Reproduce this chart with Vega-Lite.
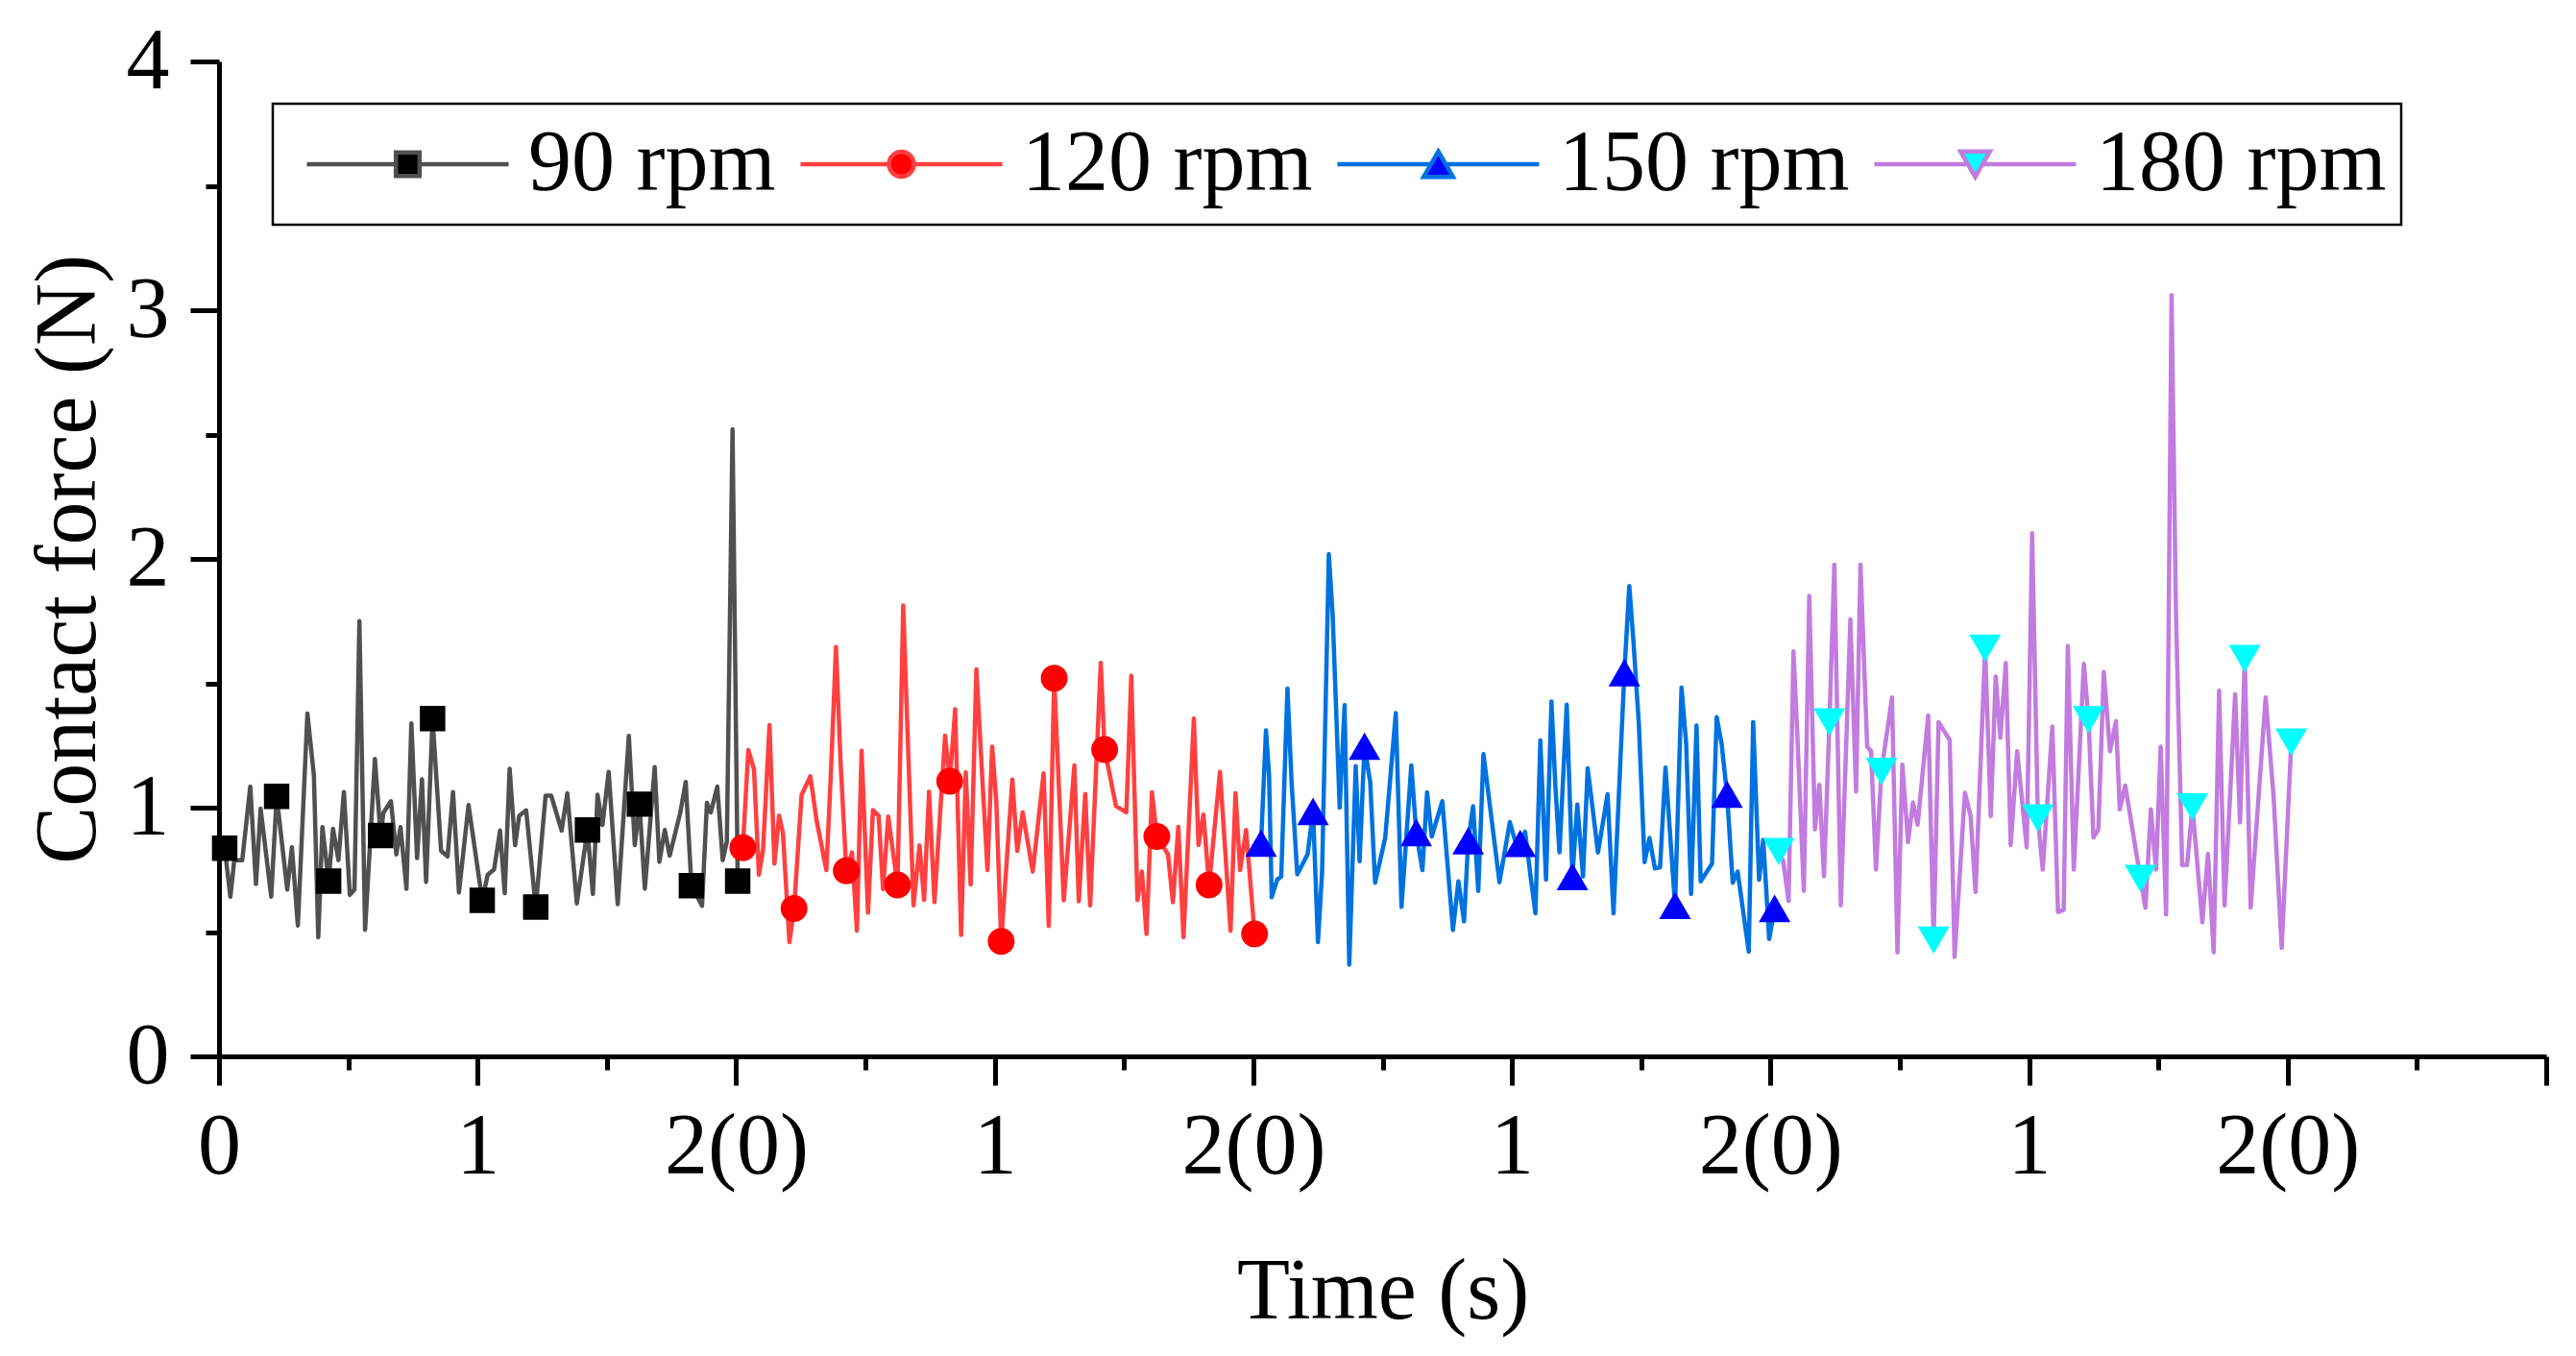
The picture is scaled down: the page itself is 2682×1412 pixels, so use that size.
{
  "$schema": "https://vega.github.io/schema/vega-lite/v6.json",
  "description": "Contact force vs time at four rotation speeds",
  "width": 2423,
  "height": 1036,
  "autosize": {"type": "none"},
  "padding": {"left": 228, "top": 64, "right": 31, "bottom": 312},
  "background": "#ffffff",
  "config": {
    "view": {"stroke": null},
    "font": "Liberation Serif",
    "legend": {"strokeWidth": 2.5},
    "axis": {
      "grid": false,
      "domainColor": "black",
      "domainWidth": 5,
      "tickColor": "black",
      "tickWidth": 5,
      "labelFont": "Liberation Serif",
      "labelFontSize": 90,
      "labelColor": "black",
      "titleFont": "Liberation Serif",
      "titleFontSize": 90,
      "titleFontWeight": "normal",
      "titleColor": "black"
    }
  },
  "datasets": {
    "lines": [
      {"series": "90 rpm", "time": 0.005, "force": 0.82},
      {"series": "90 rpm", "time": 0.022, "force": 0.837},
      {"series": "90 rpm", "time": 0.044, "force": 0.642},
      {"series": "90 rpm", "time": 0.059, "force": 0.789},
      {"series": "90 rpm", "time": 0.09, "force": 0.789},
      {"series": "90 rpm", "time": 0.121, "force": 1.085},
      {"series": "90 rpm", "time": 0.143, "force": 0.693},
      {"series": "90 rpm", "time": 0.161, "force": 0.996},
      {"series": "90 rpm", "time": 0.202, "force": 0.642},
      {"series": "90 rpm", "time": 0.223, "force": 1.045},
      {"series": "90 rpm", "time": 0.264, "force": 0.671},
      {"series": "90 rpm", "time": 0.282, "force": 0.841},
      {"series": "90 rpm", "time": 0.305, "force": 0.526},
      {"series": "90 rpm", "time": 0.342, "force": 1.378},
      {"series": "90 rpm", "time": 0.367, "force": 1.129},
      {"series": "90 rpm", "time": 0.384, "force": 0.479},
      {"series": "90 rpm", "time": 0.4, "force": 0.922},
      {"series": "90 rpm", "time": 0.424, "force": 0.705},
      {"series": "90 rpm", "time": 0.441, "force": 0.915},
      {"series": "90 rpm", "time": 0.462, "force": 0.789},
      {"series": "90 rpm", "time": 0.483, "force": 1.063},
      {"series": "90 rpm", "time": 0.506, "force": 0.649},
      {"series": "90 rpm", "time": 0.524, "force": 0.671},
      {"series": "90 rpm", "time": 0.543, "force": 1.75},
      {"series": "90 rpm", "time": 0.565, "force": 0.509},
      {"series": "90 rpm", "time": 0.603, "force": 1.196},
      {"series": "90 rpm", "time": 0.625, "force": 0.888},
      {"series": "90 rpm", "time": 0.636, "force": 0.98},
      {"series": "90 rpm", "time": 0.665, "force": 1.026},
      {"series": "90 rpm", "time": 0.686, "force": 0.812},
      {"series": "90 rpm", "time": 0.702, "force": 0.922},
      {"series": "90 rpm", "time": 0.725, "force": 0.674},
      {"series": "90 rpm", "time": 0.744, "force": 1.339},
      {"series": "90 rpm", "time": 0.766, "force": 0.797},
      {"series": "90 rpm", "time": 0.785, "force": 1.114},
      {"series": "90 rpm", "time": 0.801, "force": 0.701},
      {"series": "90 rpm", "time": 0.826, "force": 1.358},
      {"series": "90 rpm", "time": 0.859, "force": 0.826},
      {"series": "90 rpm", "time": 0.884, "force": 0.804},
      {"series": "90 rpm", "time": 0.905, "force": 1.063},
      {"series": "90 rpm", "time": 0.928, "force": 0.659},
      {"series": "90 rpm", "time": 0.965, "force": 1.011},
      {"series": "90 rpm", "time": 1.018, "force": 0.627},
      {"series": "90 rpm", "time": 1.039, "force": 0.73},
      {"series": "90 rpm", "time": 1.064, "force": 0.752},
      {"series": "90 rpm", "time": 1.087, "force": 0.908},
      {"series": "90 rpm", "time": 1.105, "force": 0.656},
      {"series": "90 rpm", "time": 1.124, "force": 1.156},
      {"series": "90 rpm", "time": 1.145, "force": 0.849},
      {"series": "90 rpm", "time": 1.161, "force": 0.967},
      {"series": "90 rpm", "time": 1.188, "force": 0.989},
      {"series": "90 rpm", "time": 1.225, "force": 0.6},
      {"series": "90 rpm", "time": 1.263, "force": 1.048},
      {"series": "90 rpm", "time": 1.285, "force": 1.048},
      {"series": "90 rpm", "time": 1.325, "force": 0.908},
      {"series": "90 rpm", "time": 1.347, "force": 1.058},
      {"series": "90 rpm", "time": 1.384, "force": 0.615},
      {"series": "90 rpm", "time": 1.425, "force": 0.91},
      {"series": "90 rpm", "time": 1.446, "force": 0.653},
      {"series": "90 rpm", "time": 1.464, "force": 1.052},
      {"series": "90 rpm", "time": 1.483, "force": 0.93},
      {"series": "90 rpm", "time": 1.507, "force": 1.144},
      {"series": "90 rpm", "time": 1.542, "force": 0.612},
      {"series": "90 rpm", "time": 1.585, "force": 1.289},
      {"series": "90 rpm", "time": 1.608, "force": 0.849},
      {"series": "90 rpm", "time": 1.626, "force": 1.014},
      {"series": "90 rpm", "time": 1.647, "force": 0.674},
      {"series": "90 rpm", "time": 1.685, "force": 1.163},
      {"series": "90 rpm", "time": 1.703, "force": 0.782},
      {"series": "90 rpm", "time": 1.724, "force": 0.91},
      {"series": "90 rpm", "time": 1.743, "force": 0.807},
      {"series": "90 rpm", "time": 1.784, "force": 0.981},
      {"series": "90 rpm", "time": 1.805, "force": 1.103},
      {"series": "90 rpm", "time": 1.827, "force": 0.686},
      {"series": "90 rpm", "time": 1.868, "force": 0.605},
      {"series": "90 rpm", "time": 1.887, "force": 1.019},
      {"series": "90 rpm", "time": 1.902, "force": 0.981},
      {"series": "90 rpm", "time": 1.927, "force": 1.085},
      {"series": "90 rpm", "time": 1.948, "force": 0.789},
      {"series": "90 rpm", "time": 1.964, "force": 0.863},
      {"series": "90 rpm", "time": 1.986, "force": 2.521},
      {"series": "90 rpm", "time": 2.006, "force": 0.705},

      {"series": "120 rpm", "time": 2.026, "force": 0.839},
      {"series": "120 rpm", "time": 2.047, "force": 1.232},
      {"series": "120 rpm", "time": 2.069, "force": 1.154},
      {"series": "120 rpm", "time": 2.088, "force": 0.73},
      {"series": "120 rpm", "time": 2.104, "force": 0.83},
      {"series": "120 rpm", "time": 2.129, "force": 1.332},
      {"series": "120 rpm", "time": 2.148, "force": 0.775},
      {"series": "120 rpm", "time": 2.166, "force": 0.968},
      {"series": "120 rpm", "time": 2.181, "force": 0.897},
      {"series": "120 rpm", "time": 2.206, "force": 0.459},
      {"series": "120 rpm", "time": 2.224, "force": 0.595},
      {"series": "120 rpm", "time": 2.253, "force": 1.051},
      {"series": "120 rpm", "time": 2.287, "force": 1.126},
      {"series": "120 rpm", "time": 2.311, "force": 0.949},
      {"series": "120 rpm", "time": 2.349, "force": 0.749},
      {"series": "120 rpm", "time": 2.367, "force": 1.154},
      {"series": "120 rpm", "time": 2.386, "force": 1.646},
      {"series": "120 rpm", "time": 2.404, "force": 1.18},
      {"series": "120 rpm", "time": 2.426, "force": 0.746},
      {"series": "120 rpm", "time": 2.448, "force": 0.82},
      {"series": "120 rpm", "time": 2.467, "force": 0.505},
      {"series": "120 rpm", "time": 2.485, "force": 1.229},
      {"series": "120 rpm", "time": 2.51, "force": 0.578},
      {"series": "120 rpm", "time": 2.529, "force": 0.99},
      {"series": "120 rpm", "time": 2.551, "force": 0.968},
      {"series": "120 rpm", "time": 2.568, "force": 0.672},
      {"series": "120 rpm", "time": 2.588, "force": 0.964},
      {"series": "120 rpm", "time": 2.624, "force": 0.689},
      {"series": "120 rpm", "time": 2.646, "force": 1.813},
      {"series": "120 rpm", "time": 2.686, "force": 0.607},
      {"series": "120 rpm", "time": 2.709, "force": 0.848},
      {"series": "120 rpm", "time": 2.727, "force": 0.629},
      {"series": "120 rpm", "time": 2.746, "force": 1.064},
      {"series": "120 rpm", "time": 2.767, "force": 0.62},
      {"series": "120 rpm", "time": 2.808, "force": 1.29},
      {"series": "120 rpm", "time": 2.826, "force": 1.106},
      {"series": "120 rpm", "time": 2.847, "force": 1.396},
      {"series": "120 rpm", "time": 2.87, "force": 0.488},
      {"series": "120 rpm", "time": 2.888, "force": 1.142},
      {"series": "120 rpm", "time": 2.907, "force": 0.691},
      {"series": "120 rpm", "time": 2.929, "force": 1.556},
      {"series": "120 rpm", "time": 2.95, "force": 1.154},
      {"series": "120 rpm", "time": 2.972, "force": 0.749},
      {"series": "120 rpm", "time": 2.99, "force": 1.245},
      {"series": "120 rpm", "time": 3.006, "force": 1.026},
      {"series": "120 rpm", "time": 3.025, "force": 0.462},
      {"series": "120 rpm", "time": 3.068, "force": 1.113},
      {"series": "120 rpm", "time": 3.087, "force": 0.826},
      {"series": "120 rpm", "time": 3.108, "force": 0.981},
      {"series": "120 rpm", "time": 3.147, "force": 0.743},
      {"series": "120 rpm", "time": 3.189, "force": 1.138},
      {"series": "120 rpm", "time": 3.209, "force": 0.524},
      {"series": "120 rpm", "time": 3.23, "force": 1.52},
      {"series": "120 rpm", "time": 3.267, "force": 0.627},
      {"series": "120 rpm", "time": 3.308, "force": 1.17},
      {"series": "120 rpm", "time": 3.325, "force": 0.624},
      {"series": "120 rpm", "time": 3.35, "force": 1.055},
      {"series": "120 rpm", "time": 3.369, "force": 0.607},
      {"series": "120 rpm", "time": 3.41, "force": 1.582},
      {"series": "120 rpm", "time": 3.425, "force": 1.234},
      {"series": "120 rpm", "time": 3.469, "force": 1.006},
      {"series": "120 rpm", "time": 3.509, "force": 0.981},
      {"series": "120 rpm", "time": 3.528, "force": 1.53},
      {"series": "120 rpm", "time": 3.552, "force": 0.629},
      {"series": "120 rpm", "time": 3.569, "force": 0.743},
      {"series": "120 rpm", "time": 3.587, "force": 0.492},
      {"series": "120 rpm", "time": 3.608, "force": 1.062},
      {"series": "120 rpm", "time": 3.627, "force": 0.884},
      {"series": "120 rpm", "time": 3.67, "force": 0.813},
      {"series": "120 rpm", "time": 3.689, "force": 0.62},
      {"series": "120 rpm", "time": 3.71, "force": 0.923},
      {"series": "120 rpm", "time": 3.73, "force": 0.479},
      {"series": "120 rpm", "time": 3.77, "force": 1.358},
      {"series": "120 rpm", "time": 3.788, "force": 0.85},
      {"series": "120 rpm", "time": 3.807, "force": 0.972},
      {"series": "120 rpm", "time": 3.829, "force": 0.689},
      {"series": "120 rpm", "time": 3.871, "force": 1.144},
      {"series": "120 rpm", "time": 3.912, "force": 0.505},
      {"series": "120 rpm", "time": 3.931, "force": 1.058},
      {"series": "120 rpm", "time": 3.949, "force": 0.749},
      {"series": "120 rpm", "time": 3.972, "force": 0.91},
      {"series": "120 rpm", "time": 4.005, "force": 0.492},

      {"series": "150 rpm", "time": 4.03, "force": 0.857},
      {"series": "150 rpm", "time": 4.049, "force": 1.311},
      {"series": "150 rpm", "time": 4.061, "force": 1.129},
      {"series": "150 rpm", "time": 4.071, "force": 0.64},
      {"series": "150 rpm", "time": 4.092, "force": 0.71},
      {"series": "150 rpm", "time": 4.108, "force": 0.723},
      {"series": "150 rpm", "time": 4.132, "force": 1.479},
      {"series": "150 rpm", "time": 4.148, "force": 1.103},
      {"series": "150 rpm", "time": 4.17, "force": 0.732},
      {"series": "150 rpm", "time": 4.21, "force": 0.813},
      {"series": "150 rpm", "time": 4.231, "force": 0.985},
      {"series": "150 rpm", "time": 4.25, "force": 0.459},
      {"series": "150 rpm", "time": 4.266, "force": 0.742},
      {"series": "150 rpm", "time": 4.292, "force": 2.019},
      {"series": "150 rpm", "time": 4.307, "force": 1.772},
      {"series": "150 rpm", "time": 4.334, "force": 1.0},
      {"series": "150 rpm", "time": 4.353, "force": 1.412},
      {"series": "150 rpm", "time": 4.371, "force": 0.369},
      {"series": "150 rpm", "time": 4.396, "force": 1.167},
      {"series": "150 rpm", "time": 4.411, "force": 0.784},
      {"series": "150 rpm", "time": 4.43, "force": 1.247},
      {"series": "150 rpm", "time": 4.452, "force": 1.103},
      {"series": "150 rpm", "time": 4.471, "force": 0.698},
      {"series": "150 rpm", "time": 4.51, "force": 0.878},
      {"series": "150 rpm", "time": 4.551, "force": 1.38},
      {"series": "150 rpm", "time": 4.573, "force": 0.601},
      {"series": "150 rpm", "time": 4.611, "force": 1.17},
      {"series": "150 rpm", "time": 4.63, "force": 0.9},
      {"series": "150 rpm", "time": 4.654, "force": 0.749},
      {"series": "150 rpm", "time": 4.672, "force": 1.062},
      {"series": "150 rpm", "time": 4.69, "force": 0.884},
      {"series": "150 rpm", "time": 4.731, "force": 1.026},
      {"series": "150 rpm", "time": 4.772, "force": 0.508},
      {"series": "150 rpm", "time": 4.793, "force": 0.704},
      {"series": "150 rpm", "time": 4.815, "force": 0.543},
      {"series": "150 rpm", "time": 4.831, "force": 0.867},
      {"series": "150 rpm", "time": 4.85, "force": 1.006},
      {"series": "150 rpm", "time": 4.87, "force": 0.665},
      {"series": "150 rpm", "time": 4.89, "force": 1.215},
      {"series": "150 rpm", "time": 4.952, "force": 0.7},
      {"series": "150 rpm", "time": 4.992, "force": 0.942},
      {"series": "150 rpm", "time": 5.011, "force": 0.871},
      {"series": "150 rpm", "time": 5.032, "force": 0.856},
      {"series": "150 rpm", "time": 5.051, "force": 0.903},
      {"series": "150 rpm", "time": 5.073, "force": 0.717},
      {"series": "150 rpm", "time": 5.091, "force": 0.575},
      {"series": "150 rpm", "time": 5.11, "force": 1.27},
      {"series": "150 rpm", "time": 5.132, "force": 0.71},
      {"series": "150 rpm", "time": 5.153, "force": 1.427},
      {"series": "150 rpm", "time": 5.168, "force": 1.09},
      {"series": "150 rpm", "time": 5.184, "force": 0.82},
      {"series": "150 rpm", "time": 5.212, "force": 1.414},
      {"series": "150 rpm", "time": 5.234, "force": 0.723},
      {"series": "150 rpm", "time": 5.253, "force": 1.013},
      {"series": "150 rpm", "time": 5.275, "force": 0.723},
      {"series": "150 rpm", "time": 5.293, "force": 1.158},
      {"series": "150 rpm", "time": 5.333, "force": 0.82},
      {"series": "150 rpm", "time": 5.37, "force": 1.054},
      {"series": "150 rpm", "time": 5.393, "force": 0.575},
      {"series": "150 rpm", "time": 5.435, "force": 1.543},
      {"series": "150 rpm", "time": 5.454, "force": 1.891},
      {"series": "150 rpm", "time": 5.47, "force": 1.669},
      {"series": "150 rpm", "time": 5.491, "force": 1.335},
      {"series": "150 rpm", "time": 5.513, "force": 0.781},
      {"series": "150 rpm", "time": 5.532, "force": 0.878},
      {"series": "150 rpm", "time": 5.553, "force": 0.756},
      {"series": "150 rpm", "time": 5.573, "force": 0.76},
      {"series": "150 rpm", "time": 5.594, "force": 1.161},
      {"series": "150 rpm", "time": 5.631, "force": 0.607},
      {"series": "150 rpm", "time": 5.656, "force": 1.483},
      {"series": "150 rpm", "time": 5.674, "force": 1.257},
      {"series": "150 rpm", "time": 5.693, "force": 0.653},
      {"series": "150 rpm", "time": 5.714, "force": 1.33},
      {"series": "150 rpm", "time": 5.73, "force": 0.704},
      {"series": "150 rpm", "time": 5.774, "force": 0.775},
      {"series": "150 rpm", "time": 5.792, "force": 1.364},
      {"series": "150 rpm", "time": 5.811, "force": 1.257},
      {"series": "150 rpm", "time": 5.832, "force": 1.054},
      {"series": "150 rpm", "time": 5.854, "force": 0.698},
      {"series": "150 rpm", "time": 5.873, "force": 0.743},
      {"series": "150 rpm", "time": 5.916, "force": 0.421},
      {"series": "150 rpm", "time": 5.933, "force": 1.344},
      {"series": "150 rpm", "time": 5.956, "force": 0.71},
      {"series": "150 rpm", "time": 5.972, "force": 0.871},
      {"series": "150 rpm", "time": 5.995, "force": 0.472},
      {"series": "150 rpm", "time": 6.016, "force": 0.595},

      {"series": "180 rpm", "time": 6.032, "force": 0.823},
      {"series": "180 rpm", "time": 6.049, "force": 0.787},
      {"series": "180 rpm", "time": 6.07, "force": 0.625},
      {"series": "180 rpm", "time": 6.089, "force": 1.628},
      {"series": "180 rpm", "time": 6.104, "force": 1.29},
      {"series": "180 rpm", "time": 6.129, "force": 0.665},
      {"series": "180 rpm", "time": 6.15, "force": 1.851},
      {"series": "180 rpm", "time": 6.172, "force": 0.913},
      {"series": "180 rpm", "time": 6.189, "force": 1.092},
      {"series": "180 rpm", "time": 6.207, "force": 0.724},
      {"series": "180 rpm", "time": 6.228, "force": 1.344},
      {"series": "180 rpm", "time": 6.247, "force": 1.977},
      {"series": "180 rpm", "time": 6.272, "force": 0.607},
      {"series": "180 rpm", "time": 6.309, "force": 1.757},
      {"series": "180 rpm", "time": 6.331, "force": 1.065},
      {"series": "180 rpm", "time": 6.348, "force": 1.977},
      {"series": "180 rpm", "time": 6.374, "force": 1.245},
      {"series": "180 rpm", "time": 6.389, "force": 1.227},
      {"series": "180 rpm", "time": 6.408, "force": 0.751},
      {"series": "180 rpm", "time": 6.429, "force": 1.146},
      {"series": "180 rpm", "time": 6.47, "force": 1.443},
      {"series": "180 rpm", "time": 6.491, "force": 0.418},
      {"series": "180 rpm", "time": 6.51, "force": 1.173},
      {"series": "180 rpm", "time": 6.532, "force": 0.862},
      {"series": "180 rpm", "time": 6.551, "force": 1.02},
      {"series": "180 rpm", "time": 6.569, "force": 0.931},
      {"series": "180 rpm", "time": 6.61, "force": 1.371},
      {"series": "180 rpm", "time": 6.631, "force": 0.467},
      {"series": "180 rpm", "time": 6.65, "force": 1.344},
      {"series": "180 rpm", "time": 6.693, "force": 1.272},
      {"series": "180 rpm", "time": 6.712, "force": 0.4},
      {"series": "180 rpm", "time": 6.752, "force": 1.06},
      {"series": "180 rpm", "time": 6.774, "force": 0.966},
      {"series": "180 rpm", "time": 6.793, "force": 0.661},
      {"series": "180 rpm", "time": 6.83, "force": 1.641},
      {"series": "180 rpm", "time": 6.852, "force": 0.966},
      {"series": "180 rpm", "time": 6.871, "force": 1.527},
      {"series": "180 rpm", "time": 6.889, "force": 1.281},
      {"series": "180 rpm", "time": 6.91, "force": 1.581},
      {"series": "180 rpm", "time": 6.929, "force": 0.85},
      {"series": "180 rpm", "time": 6.954, "force": 1.227},
      {"series": "180 rpm", "time": 6.991, "force": 0.841},
      {"series": "180 rpm", "time": 7.012, "force": 2.103},
      {"series": "180 rpm", "time": 7.034, "force": 0.958},
      {"series": "180 rpm", "time": 7.053, "force": 0.751},
      {"series": "180 rpm", "time": 7.09, "force": 1.326},
      {"series": "180 rpm", "time": 7.112, "force": 0.58},
      {"series": "180 rpm", "time": 7.134, "force": 0.589},
      {"series": "180 rpm", "time": 7.15, "force": 1.65},
      {"series": "180 rpm", "time": 7.173, "force": 0.751},
      {"series": "180 rpm", "time": 7.212, "force": 1.578},
      {"series": "180 rpm", "time": 7.23, "force": 1.353},
      {"series": "180 rpm", "time": 7.249, "force": 0.88},
      {"series": "180 rpm", "time": 7.268, "force": 0.913},
      {"series": "180 rpm", "time": 7.289, "force": 1.545},
      {"series": "180 rpm", "time": 7.313, "force": 1.227},
      {"series": "180 rpm", "time": 7.336, "force": 1.348},
      {"series": "180 rpm", "time": 7.351, "force": 0.993},
      {"series": "180 rpm", "time": 7.372, "force": 1.089},
      {"series": "180 rpm", "time": 7.431, "force": 0.715},
      {"series": "180 rpm", "time": 7.45, "force": 0.598},
      {"series": "180 rpm", "time": 7.471, "force": 0.993},
      {"series": "180 rpm", "time": 7.491, "force": 0.751},
      {"series": "180 rpm", "time": 7.509, "force": 1.245},
      {"series": "180 rpm", "time": 7.53, "force": 0.571},
      {"series": "180 rpm", "time": 7.551, "force": 3.061},
      {"series": "180 rpm", "time": 7.568, "force": 1.793},
      {"series": "180 rpm", "time": 7.592, "force": 0.769},
      {"series": "180 rpm", "time": 7.611, "force": 0.769},
      {"series": "180 rpm", "time": 7.632, "force": 1.003},
      {"series": "180 rpm", "time": 7.67, "force": 0.539},
      {"series": "180 rpm", "time": 7.692, "force": 0.814},
      {"series": "180 rpm", "time": 7.714, "force": 0.418},
      {"series": "180 rpm", "time": 7.735, "force": 1.47},
      {"series": "180 rpm", "time": 7.756, "force": 0.607},
      {"series": "180 rpm", "time": 7.797, "force": 1.456},
      {"series": "180 rpm", "time": 7.816, "force": 0.94},
      {"series": "180 rpm", "time": 7.834, "force": 1.599},
      {"series": "180 rpm", "time": 7.857, "force": 0.598},
      {"series": "180 rpm", "time": 7.915, "force": 1.443},
      {"series": "180 rpm", "time": 7.946, "force": 1.039},
      {"series": "180 rpm", "time": 7.977, "force": 0.436},
      {"series": "180 rpm", "time": 8.014, "force": 1.263}
    ],
    "markers": [
      {"series": "90 rpm", "time": 0.022, "force": 0.837},
      {"series": "90 rpm", "time": 0.223, "force": 1.045},
      {"series": "90 rpm", "time": 0.424, "force": 0.705},
      {"series": "90 rpm", "time": 0.625, "force": 0.888},
      {"series": "90 rpm", "time": 0.826, "force": 1.358},
      {"series": "90 rpm", "time": 1.018, "force": 0.627},
      {"series": "90 rpm", "time": 1.225, "force": 0.6},
      {"series": "90 rpm", "time": 1.425, "force": 0.91},
      {"series": "90 rpm", "time": 1.626, "force": 1.014},
      {"series": "90 rpm", "time": 1.827, "force": 0.686},
      {"series": "90 rpm", "time": 2.006, "force": 0.705},
      {"series": "120 rpm", "time": 2.026, "force": 0.839},
      {"series": "120 rpm", "time": 2.224, "force": 0.595},
      {"series": "120 rpm", "time": 2.426, "force": 0.746},
      {"series": "120 rpm", "time": 2.624, "force": 0.689},
      {"series": "120 rpm", "time": 2.826, "force": 1.106},
      {"series": "120 rpm", "time": 3.025, "force": 0.462},
      {"series": "120 rpm", "time": 3.23, "force": 1.52},
      {"series": "120 rpm", "time": 3.425, "force": 1.234},
      {"series": "120 rpm", "time": 3.627, "force": 0.884},
      {"series": "120 rpm", "time": 3.829, "force": 0.689},
      {"series": "120 rpm", "time": 4.005, "force": 0.492},
      {"series": "150 rpm", "time": 4.03, "force": 0.857},
      {"series": "150 rpm", "time": 4.231, "force": 0.985},
      {"series": "150 rpm", "time": 4.43, "force": 1.247},
      {"series": "150 rpm", "time": 4.63, "force": 0.9},
      {"series": "150 rpm", "time": 4.831, "force": 0.867},
      {"series": "150 rpm", "time": 5.032, "force": 0.856},
      {"series": "150 rpm", "time": 5.234, "force": 0.723},
      {"series": "150 rpm", "time": 5.435, "force": 1.543},
      {"series": "150 rpm", "time": 5.631, "force": 0.607},
      {"series": "150 rpm", "time": 5.832, "force": 1.054},
      {"series": "150 rpm", "time": 6.016, "force": 0.595},
      {"series": "180 rpm", "time": 6.032, "force": 0.823},
      {"series": "180 rpm", "time": 6.228, "force": 1.344},
      {"series": "180 rpm", "time": 6.429, "force": 1.146},
      {"series": "180 rpm", "time": 6.631, "force": 0.467},
      {"series": "180 rpm", "time": 6.83, "force": 1.641},
      {"series": "180 rpm", "time": 7.034, "force": 0.958},
      {"series": "180 rpm", "time": 7.23, "force": 1.353},
      {"series": "180 rpm", "time": 7.431, "force": 0.715},
      {"series": "180 rpm", "time": 7.632, "force": 1.003},
      {"series": "180 rpm", "time": 7.834, "force": 1.599},
      {"series": "180 rpm", "time": 8.014, "force": 1.263}
    ]
  },
  "layer": [
    {
      "data": {"name": "lines"},
      "mark": {"type": "line", "strokeWidth": 4.5, "strokeJoin": "round", "strokeCap": "round"},
      "encoding": {
        "x": {
          "field": "time",
          "type": "quantitative",
          "scale": {"domain": [0, 9], "nice": false, "zero": false},
          "axis": {
            "orient": "bottom",
            "title": "Time (s)",
            "values": [0, 1, 2, 3, 4, 5, 6, 7, 8, 9],
            "labelExpr": "datum.value == 0 ? '0' : datum.value == 9 ? '' : datum.value % 2 == 0 ? '2(0)' : '1'",
            "labelFlush": false,
            "labelOverlap": false,
            "labelBound": false,
            "tickSize": 30,
            "labelPadding": 20,
            "titlePadding": 62
          }
        },
        "y": {
          "field": "force",
          "type": "quantitative",
          "scale": {"domain": [0, 4], "nice": false},
          "axis": {
            "orient": "left",
            "title": "Contact force (N)",
            "values": [0, 1, 2, 3, 4],
            "format": "d",
            "labelFlush": false,
            "labelOverlap": false,
            "tickSize": 30,
            "labelPadding": 22,
            "titlePadding": 14
          }
        },
        "color": {
          "field": "series",
          "type": "nominal",
          "scale": {
            "domain": ["90 rpm", "120 rpm", "150 rpm", "180 rpm"],
            "range": ["#505050", "#FF4040", "#0072E0", "#C27BDF"]
          },
          "legend": {
            "title": null,
            "orient": "none",
            "legendX": 56,
            "legendY": 44,
            "direction": "horizontal",
            "columns": 4,
            "columnPadding": 5,
            "padding": 15,
            "clipHeight": 96,
            "strokeColor": "black",
            "fillColor": "white",
            "labelFont": "Liberation Serif",
            "labelFontSize": 90,
            "labelColor": "black",
            "labelOffset": 80.5,
            "labelLimit": 1000,
            "symbolSize": 676,
            "symbolStrokeWidth": 4.5,
            "symbolOffset": 80.5,
            "symbolOpacity": 1
          }
        }
      }
    },
    {
      "data": {"name": "markers"},
      "mark": {"type": "point", "filled": true, "opacity": 1, "size": 784},
      "encoding": {
        "x": {
          "field": "time",
          "type": "quantitative",
          "scale": {"domain": [0, 9], "nice": false, "zero": false},
          "axis": {
            "orient": "bottom",
            "title": null,
            "values": [0.5, 1.5, 2.5, 3.5, 4.5, 5.5, 6.5, 7.5, 8.5],
            "labels": false,
            "domain": false,
            "tickSize": 14
          }
        },
        "y": {
          "field": "force",
          "type": "quantitative",
          "scale": {"domain": [0, 4], "nice": false},
          "axis": {
            "orient": "left",
            "title": null,
            "values": [0.5, 1.5, 2.5, 3.5],
            "labels": false,
            "domain": false,
            "tickSize": 14
          }
        },
        "fill": {
          "field": "series",
          "type": "nominal",
          "scale": {
            "domain": ["90 rpm", "120 rpm", "150 rpm", "180 rpm"],
            "range": ["#000000", "#FF0000", "#0000FF", "#00FFFF"]
          },
          "legend": {"title": null}
        },
        "shape": {
          "field": "series",
          "type": "nominal",
          "scale": {
            "domain": ["90 rpm", "120 rpm", "150 rpm", "180 rpm"],
            "range": [
              "M-8.08,0H-0.946M0.946,0H8.08M-0.946,-0.946H0.946V0.946H-0.946Z",
              "M-8.08,0H-1M1,0H8.08M-1,0A1,1,0,1,0,1,0A1,1,0,1,0,-1,0Z",
              "M-8.08,0H-0.6M0.6,0H8.08M0,-1.02L1.18,1.02L-1.18,1.02Z",
              "M-8.08,0H-0.6M0.6,0H8.08M0,1.02L1.18,-1.02L-1.18,-1.02Z"
            ]
          },
          "legend": {"title": null}
        }
      }
    }
  ],
  "resolve": {"axis": {"x": "independent", "y": "independent"}}
}
